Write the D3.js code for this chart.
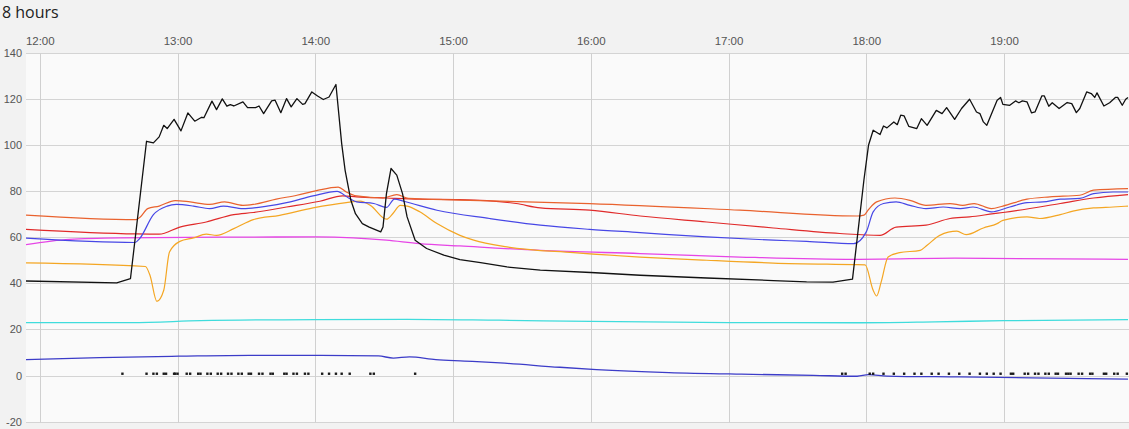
<!DOCTYPE html>
<html>
<head>
<meta charset="utf-8">
<script src="https://cdn.jsdelivr.net/npm/d3@7"></script>
<style>
  html, body { margin: 0; padding: 0; background: #f2f2f2; }
  svg { display: block; }
</style>
</head>
<body>
<svg id="chart" width="1129" height="429"></svg>
<script>
// ---------- DATA ----------
const title = "8 hours";
const timeDomain = ["11:54", "19:54"];
const hourTicks = ["12:00","13:00","14:00","15:00","16:00","17:00","18:00","19:00"];
const valueTicks = [-20, 0, 20, 40, 60, 80, 100, 120, 140];

const blackSeries = [
  ["11:54",41.0],["12:33:30",40.2],["12:39:30",42],["12:46:30",101.6],["12:49:30",100.9],["12:52",103.5],
  ["12:54",108.5],["12:55:30",107.1],["12:58:30",111.1],["13:01:30",106.1],["13:04:30",113.9],["13:07:30",110.3],
  ["13:10:30",112],["13:11:30",111.8],["13:15",119],["13:17",115.3],["13:19:30",120],["13:21:30",116.8],
  ["13:23",117.5],["13:24:30",116.9],["13:28:30",118.7],["13:30:30",116.2],["13:34",116.2],["13:35:30",116.9],
  ["13:37:30",113.6],["13:41",119.1],["13:42:30",119.4],["13:45",114],["13:47:30",120.1],["13:49:30",116.5],
  ["13:52",120.1],["13:54:30",117.6],["13:55:30",117.9],["13:58:30",123],["14:01",121.2],["14:03:30",119.7],
  ["14:06",120.8],["14:09",126.2],["14:11:30",100.6],["14:13",89],["14:15:30",76],["14:17:30",70.2],
  ["14:20:30",65.9],["14:23:30",64.4],["14:28:30",62.3],["14:29:30",64.4],["14:31",78.9],["14:33",89.8],
  ["14:35:30",86.9],["14:38",78.9],["14:40",68.8],["14:43:30",58.7],["14:48:30",55.1],["14:56",52.2],
  ["15:03",50.3],["15:12",49],["15:23:30",47.1],["15:38",45.7],["16:00",44.7],["16:21:30",43.5],
  ["16:50:30",42.3],["17:19:30",41.2],["17:34",40.6],["17:45:30",40.5],["17:54",41.8],["17:59",85],
  ["18:01",100],["18:03",106.4],["18:06",104.5],["18:07:30",108.2],["18:09",107.4],["18:12",110],
  ["18:13:30",108.8],["18:15",112.9],["18:16:30",112.6],["18:18:30",108.1],["18:22",107.1],["18:24",111.4],
  ["18:26:30",108.5],["18:30:30",115],["18:33",113.6],["18:35",116.2],["18:38:30",111.1],["18:41:30",115.8],
  ["18:45",119.8],["18:48",114.3],["18:49:30",113.6],["18:51",110],["18:52:30",108.5],["18:57",119.4],
  ["18:58:30",120.6],["18:59:30",117.6],["19:02:30",117.2],["19:05",119.1],["19:06:30",118.3],["19:08",119.1],
  ["19:10",118.7],["19:12",113.9],["19:13:30",114.3],["19:16:30",121.3],["19:17:30",121.3],["19:19:30",116.8],
  ["19:21",118.3],["19:24",115.8],["19:27:30",118.4],["19:29:30",117.9],["19:31:30",114],["19:33",115.8],
  ["19:36",123],["19:38",122.3],["19:39:30",120.6],["19:40:30",122.6],["19:43:30",116.9],["19:46",118.3],
  ["19:48:30",120.6],["19:49:30",120.6],["19:51:30",117.2],["19:53",119.8],["19:54",120.6]
];

const orangeRedSeries = [
  ["11:54",69.6],["12:42",67.6],["12:44",69],["12:47",72.4],["12:52",73.5],["12:59",75.9],["13:05:30",75.3],
  ["13:14",74.2],["13:20:30",75.3],["13:28:30",73.8],["13:33",74.2],["13:43",76.5],["13:52",78.2],
  ["14:00:30",80.2],["14:10",81.7],["14:13:30",79.6],["14:18",77.9],["14:29:30",77],["14:35:30",78.5],
  ["14:40:30",76.8],["15:03",76.1],["15:59:30",74.6],["17:05",71.7],["17:56",69.2],["17:59",69.6],
  ["18:01",72],["18:04:30",75.3],["18:12:30",77],["18:19",76],["18:26",73.8],["18:36:30",74.6],
  ["18:42",73.8],["18:47",74.6],["18:54:30",72.4],["18:59:30",73.5],["19:10",76.5],["19:20",77.5],
  ["19:33",78.2],["19:39",80.4],["19:54",81.1]
];

const redSeries = [
  ["11:54",63.4],["12:42",61.4],["12:52",61.3],["13:01",64.4],["13:12:30",66.6],["13:24:30",69.8],
  ["13:33",70.7],["13:47:30",73.1],["14:02",75.6],["14:12",77.9],["14:18",77.5],["14:31",77],
  ["14:45:30",76.5],["15:03",76.3],["15:27:30",74.6],["15:38",72.7],["15:59:30",71.7],["16:21:30",69.2],
  ["16:50:30",66.6],["17:19:30",64],["17:48:30",61.6],["18:06",60.8],["18:13",64.4],["18:26",65.2],
  ["18:36:30",68.1],["18:45",68.8],["18:55:30",70.2],["18:59:30",70.7],["19:24:30",74.6],["19:39",77],
  ["19:54",78.5]
];

const blueSeries = [
  ["11:54",59.6],["12:41:30",57.7],["12:43:30",59.4],["12:49:30",69.8],["12:55:30",73.5],["12:59:30",74.2],
  ["13:07",73.5],["13:14",72.4],["13:20",73.5],["13:28:30",72.4],["13:39",73.5],["13:47:30",75],
  ["13:59",77.9],["14:09:30",79.9],["14:14:30",77],["14:18",75.3],["14:25:30",74.6],["14:31",72.9],
  ["14:34:30",76.5],["14:38:30",75.6],["14:53",71.7],["15:16",68.1],["15:38",65.2],["15:59:30",63.4],
  ["16:21:30",62],["16:50:30",60.1],["17:19:30",58.7],["17:34",58.2],["17:54:30",57.2],["18:00",62.3],
  ["18:03",71],["18:07:30",74.6],["18:13",75.3],["18:19",73.8],["18:26",72.4],["18:33:30",73.1],
  ["18:41",72.4],["18:46:30",73.1],["18:54:30",71],["19:02:30",73.1],["19:10",75],["19:17",75.3],
  ["19:24:30",76.5],["19:33",76.8],["19:39",78.9],["19:47:30",79.6],["19:54",79.6]
];

const magentaSeries = [
  ["11:54",56.8],["12:13",59.1],["12:35",59.7],["13:18:30",60],["14:00:30",60.1],["14:16:30",59.7],
  ["14:31",58.7],["14:45:30",57.2],["15:03",56.2],["15:38",54.3],["16:21:30",52.9],["17:05",51.4],
  ["17:54:30",50.4],["18:06",50.5],["18:38:30",50.9],["19:54",50.4]
];

const orangeSeries = [
  ["11:54",48.9],["12:46",47.3],["12:48",43.5],["12:51",32.2],["12:54",37],["12:56:30",53.6],
  ["13:01",58.2],["13:07",59.7],["13:12:30",61.3],["13:17",60.8],["13:24:30",63.7],["13:33",67.6],
  ["13:44:30",69.5],["13:59",72.7],["14:13:30",75],["14:19:30",75.6],["14:24",73.8],["14:31",67.8],
  ["14:34",70.5],["14:37",73.8],["14:40",73.5],["14:45:30",71],["14:53",65.9],["15:03",60.8],
  ["15:09",58.7],["15:23:30",55.8],["15:52:30",53.3],["16:21:30",51.4],["16:50:30",50],["17:19:30",48.8],
  ["17:54:30",48.1],["17:59:30",48],["18:03",37],["18:04:30",34.5],["18:06:30",40.6],["18:09:30",51.4],
  ["18:14:30",53.3],["18:23:30",54.3],["18:26:30",56.5],["18:32",60.8],["18:39:30",62.6],["18:43:30",61.1],
  ["18:51",64],["18:57",65.9],["18:59:30",67.3],["19:10",68.8],["19:15:30",68.1],["19:24:30",69.8],
  ["19:30",71.3],["19:39",72.7],["19:47:30",73.1],["19:54",73.5]
];

const cyanSeries = [
  ["11:54",23.0],["12:40",23.0],["13:10",23.8],["14:00",24.3],["14:40",24.4],["15:20",24.0],
  ["16:00",23.5],["17:00",23.0],["17:55",22.9],["18:30",23.3],["19:00",23.8],["19:54",24.3]
];

const navySeries = [
  ["11:54",6.9],["12:26",7.8],["13:00:30",8.4],["13:31:30",8.8],["14:02:30",8.8],["14:27:30",8.5],
  ["14:34",7.6],["14:41",8.1],["14:52:30",6.9],["15:05",6.3],["15:20:30",5.5],["15:46:30",3.6],
  ["16:02:30",2.6],["16:34",1.3],["17:05:30",0.6],["17:37",0.1],["17:56",-0.3],["18:01",0.4],
  ["18:09",-0.2],["18:40:30",-0.6],["19:12",-1],["19:54",-1.5]
];

const eventValue = 0.8;
const eventTimes = [
  "12:36","12:46:30","12:49:30","12:51","12:54","12:55","12:58:30","12:59","13:00","13:04","13:05:30",
  "13:09","13:10","13:13","13:14:30","13:17:30","13:19","13:22","13:23:30","13:26:30","13:28","13:31",
  "13:32","13:35:30","13:37","13:40:30","13:41:30","13:46:30","13:47:30","13:50:30","13:52","13:55:30",
  "13:57","14:03","14:06","14:09","14:11:30","14:15","14:24","14:25:30","14:43:30",
  "17:49:30","17:51","18:01:30","18:03","18:07:30","18:12","18:16:30","18:21","18:24","18:28:30",
  "18:31:30","18:36","18:40:30","18:45","18:49:30","18:52:30","18:55:30","18:58:30","19:03","19:04",
  "19:09","19:10:30","19:13:30","19:15","19:18","19:19:30","19:22:30","19:23:30","19:27","19:28",
  "19:29","19:32:30","19:34","19:37:30","19:38:30","19:43:30","19:44:30","19:48","19:49:30","19:53:30"
];

// ---------- RENDER ----------
const W = 1129, H = 429;
const plotLeft = 26, plotRight = 1128, plotTop = 52.7, plotBottom = 421.7;

const parse = s => d3.timeParse("%H:%M:%S")(s.length === 5 ? s + ":00" : s);

const x = d3.scaleTime().domain(timeDomain.map(parse)).range([plotLeft, plotRight]);
const y = d3.scaleLinear().domain([-20, 140]).range([plotBottom, plotTop]);

const svg = d3.select("#chart");
svg.append("rect").attr("width", W).attr("height", H).attr("fill", "#f2f2f2");

svg.append("text").attr("x", 2).attr("y", 18)
  .attr("font-family", "'Open Sans', 'Liberation Sans', sans-serif")
  .attr("font-size", 16).attr("fill", "#222").text(title);

svg.append("rect")
  .attr("x", plotLeft).attr("y", Math.round(plotTop))
  .attr("width", W - plotLeft).attr("height", Math.round(plotBottom) - Math.round(plotTop))
  .attr("fill", "#fafafa");

const crisp = v => Math.round(v) + 0.5;

// horizontal grid
svg.append("g").selectAll("line").data(valueTicks).join("line")
  .attr("x1", plotLeft).attr("x2", W)
  .attr("y1", d => crisp(y(d))).attr("y2", d => crisp(y(d)))
  .attr("stroke", "#d4d4d4").attr("stroke-width", 1);

// vertical grid
const hourDates = hourTicks.map(parse);
svg.append("g").selectAll("line").data(hourDates).join("line")
  .attr("x1", d => crisp(x(d))).attr("x2", d => crisp(x(d)))
  .attr("y1", crisp(y(140))).attr("y2", crisp(y(-20)))
  .attr("stroke", "#d0d0d0").attr("stroke-width", 1);

// x axis labels (top)
const xAxis = d3.axisTop(x).tickValues(hourDates).tickFormat(d3.timeFormat("%H:%M")).tickSize(0).tickPadding(0);
const gx = svg.append("g").attr("transform", "translate(0,45)").call(xAxis);
gx.select(".domain").remove();
gx.selectAll("text").attr("font-family", "'Liberation Sans', Arial, sans-serif")
  .attr("font-size", 11.5).attr("fill", "#555");

// y axis labels (plain hyphen minus)
const yAxis = d3.axisLeft(y).tickValues(valueTicks).tickFormat(d => String(d)).tickSize(0).tickPadding(0);
const gy = svg.append("g").attr("transform", "translate(22,0)").call(yAxis);
gy.select(".domain").remove();
gy.selectAll("text").attr("font-family", "'Liberation Sans', Arial, sans-serif")
  .attr("font-size", 11).attr("fill", "#555");

svg.append("clipPath").attr("id", "plotclip").append("rect")
  .attr("x", plotLeft).attr("y", 0).attr("width", W - plotLeft).attr("height", H);

const lines = [
  { data: cyanSeries,      color: "#3fdcdc", width: 1.3, curve: d3.curveMonotoneX },
  { data: navySeries,      color: "#3c3cc8", width: 1.3, curve: d3.curveMonotoneX },
  { data: magentaSeries,   color: "#e645e6", width: 1.3, curve: d3.curveMonotoneX },
  { data: orangeSeries,    color: "#f4a623", width: 1.2, curve: d3.curveMonotoneX },
  { data: redSeries,       color: "#e02a2a", width: 1.2, curve: d3.curveMonotoneX },
  { data: blueSeries,      color: "#4747e6", width: 1.2, curve: d3.curveMonotoneX },
  { data: orangeRedSeries, color: "#e9622e", width: 1.2, curve: d3.curveMonotoneX },
  { data: blackSeries,     color: "#111111", width: 1.3, curve: d3.curveLinear }
];

const gLines = svg.append("g").attr("clip-path", "url(#plotclip)");
lines.forEach(s => {
  const gen = d3.line().x(d => x(parse(d[0]))).y(d => y(d[1])).curve(s.curve);
  gLines.append("path").attr("d", gen(s.data))
    .attr("fill", "none").attr("stroke", s.color).attr("stroke-width", s.width)
    .attr("stroke-linejoin", "round");
});

gLines.append("g").selectAll("rect").data(eventTimes).join("rect")
  .attr("x", d => x(parse(d)) - 1.2).attr("y", y(eventValue) - 1.2)
  .attr("width", 2.4).attr("height", 2.4).attr("fill", "#1a1a1a");
</script>
</body>
</html>
